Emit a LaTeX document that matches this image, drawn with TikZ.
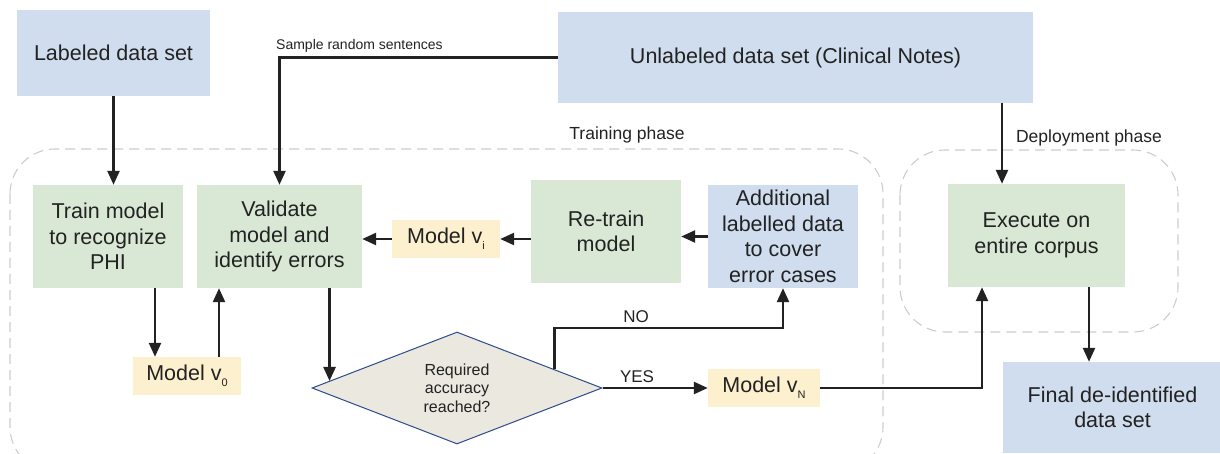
\documentclass[tikz,border=0pt]{standalone}
\usepackage{fontspec}
\setmainfont{Liberation Sans}
\usetikzlibrary{arrows.meta,shapes.geometric,calc}
\definecolor{bluebox}{HTML}{CFDDEE}
\definecolor{greenbox}{HTML}{D9E8D5}
\definecolor{yellowbox}{HTML}{FDF0CF}
\definecolor{diafill}{HTML}{EAE8DF}
\definecolor{diaedge}{HTML}{2F4B8C}
\definecolor{phasegray}{HTML}{CCCCCC}
\definecolor{ink}{HTML}{222222}
\newcommand{\msub}[1]{\raisebox{-6pt}{\fontsize{11}{11}\selectfont #1}}
\begin{document}
\begin{tikzpicture}[x=1pt,y=-1pt,
  box/.style={rectangle, inner sep=0pt, align=center, font=\fontsize{21.5}{25.5}\selectfont, text=ink},
  bluenode/.style={box, fill=bluebox},
  greennode/.style={box, fill=greenbox},
  modelnode/.style={box, fill=yellowbox, minimum height=38pt},
  arr/.style={line width=2.5pt, draw=ink, -{Triangle[length=14pt,width=12pt]}},
  phasebox/.style={draw=phasegray, line width=1.1pt, dash pattern=on 10pt off 6pt, rounded corners=45pt},
  lbl/.style={inner sep=0pt, text=ink}
]
\useasboundingbox (0,0) rectangle (1220,454);
\clip (0,0) rectangle (1220,454);

% phase frames
\draw[phasebox] (10,149) rectangle (883,472);
\draw[phasebox] (900,150) rectangle (1178,332);
\node[lbl, font=\fontsize{17.5}{17.5}\selectfont] (trainlbl) at (627,135) {Training phase};
\node[lbl, font=\fontsize{17.5}{17.5}\selectfont] (deplbl) at (1089,138) {Deployment phase};

% nodes
\node[bluenode, minimum width=193pt, minimum height=86pt] (lab) at (113.5,53) {Labeled data set};
\node[bluenode, minimum width=475pt, minimum height=91pt] (unl) at (795.5,57.5) {Unlabeled data set (Clinical Notes)};
\node[greennode, minimum width=150pt, minimum height=103pt] (train) at (108,236.5) {Train model\\to recognize\\PHI};
\node[greennode, minimum width=165pt, minimum height=103pt] (valid) at (279.5,236.5) {Validate\\model and\\identify errors};
\node[modelnode, minimum width=108pt] (mvi) at (446,239) {Model v\msub{i}};
\node[greennode, minimum width=150pt, minimum height=103pt] (retrain) at (606,231.5) {Re-train\\model};
\node[bluenode, minimum width=150pt, minimum height=103pt] (add) at (783,236.5) {Additional\\labelled data\\to cover\\error cases};
\node[modelnode, minimum width=108pt] (mv0) at (187,376) {Model v\msub{0}};
\node[diamond, draw=diaedge, fill=diafill, line width=1pt, minimum width=290pt, minimum height=112pt, inner sep=0pt, aspect=2.6, align=center, text=ink, font=\fontsize{16}{18.5}\selectfont] (dia) at (457,388) {Required\\accuracy\\reached?};
\node[modelnode, minimum width=112pt] (mvN) at (764,388) {Model v\msub{N}};
\node[greennode, minimum width=177pt, minimum height=103pt] (exec) at (1036.5,235.5) {Execute on\\entire corpus};
\node[bluenode, minimum width=219pt, minimum height=91pt] (final) at (1112.5,407.5) {Final de-identified\\data set};

% connectors
\draw[arr] (lab.south) -- (lab.south |- train.north);
\draw[arr] (unl.west) -- (unl.west -| valid.north) -- (valid.north);
\node[lbl, anchor=west, font=\fontsize{14}{14}\selectfont] (samplelbl) at (276,46) {Sample random sentences};
\coordinate (ein) at ([xshift=-34.5pt]exec.north);
\draw[arr] (ein |- unl.south) -- (ein);
\coordinate (t0) at ([xshift=47pt]train.south);
\draw[arr] (t0) -- (t0 |- mv0.north);
\coordinate (m0) at ([xshift=32pt]mv0.north);
\draw[arr] (m0) -- (m0 |- valid.south);
\coordinate (vd) at ($(dia.west)!0.124!(dia.north)$);
\draw[arr] (vd |- valid.south) -- (vd);
\draw[arr] (mvi.west) -- (mvi.west -| valid.east);
\draw[arr] (retrain.west |- mvi.east) -- (mvi.east);
\draw[arr] (add.west) -- (add.west -| retrain.east);
\coordinate (np) at ($(dia.north)!0.669!(dia.east)$);
\coordinate (noy) at (0,328);
\draw[arr] (np) -- (np |- noy) -- (add.south |- noy) -- (add.south);
\node[lbl, font=\fontsize{17}{17}\selectfont] (nolbl) at (636,317) {NO};
\draw[arr] (dia.east) -- (mvN.west);
\node[lbl, font=\fontsize{17}{17}\selectfont] (yeslbl) at (637,377) {YES};
\coordinate (eup) at ([xshift=-54.5pt]exec.south);
\draw[arr] (mvN.east) -- (mvN.east -| eup) -- (eup);
\coordinate (edn) at ([xshift=52.5pt]exec.south);
\draw[arr] (edn) -- (edn |- final.north);
\end{tikzpicture}
\end{document}
